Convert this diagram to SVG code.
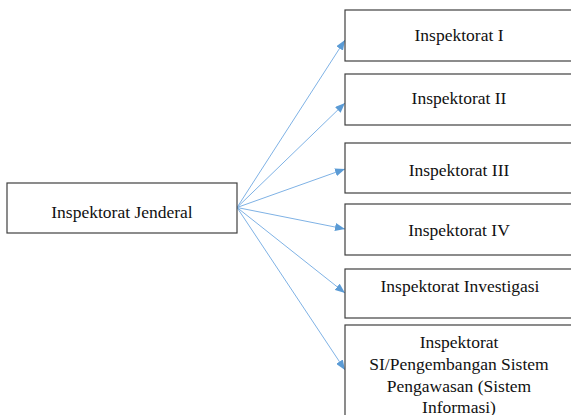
<svg xmlns="http://www.w3.org/2000/svg" width="571" height="415" viewBox="0 0 571 415">
<style>
.box{fill:#fff;stroke:#404040;stroke-width:1.2}
.t{font-family:'Liberation Serif',Tinos,'Times New Roman','DejaVu Serif',serif;font-size:17.5px;fill:#111;text-anchor:middle}
.c{stroke:#7fb2e5;stroke-width:1;fill:none;marker-end:url(#ah)}
</style>
<defs>
<marker id="ah" viewBox="0 0 10 8" refX="10" refY="4" markerWidth="10" markerHeight="8" markerUnits="userSpaceOnUse" orient="auto">
<path d="M0,0 L10,4 L0,8 z" fill="#5b9bd5"/>
</marker>
</defs>
<rect width="571" height="415" fill="#fff"/>
<g id="connectors">
<line class="c" x1="237" y1="207.5" x2="345" y2="40"/>
<line class="c" x1="237" y1="207.5" x2="345" y2="103"/>
<line class="c" x1="237" y1="207.5" x2="345" y2="169"/>
<line class="c" x1="237" y1="207.5" x2="345" y2="229"/>
<line class="c" x1="237" y1="207.5" x2="345" y2="293"/>
<line class="c" x1="237" y1="207.5" x2="345" y2="370"/>
</g>
<g id="n0"><rect class="box" x="7" y="183" width="230" height="50"/><text class="t" font-family="Liberation Serif" x="122" y="218">Inspektorat Jenderal</text></g>
<g id="n1"><rect class="box" x="345" y="10" width="230" height="51"/><text class="t" x="459" y="41">Inspektorat I</text></g>
<g id="n2"><rect class="box" x="345" y="74" width="230" height="51"/><text class="t" x="459" y="104">Inspektorat II</text></g>
<g id="n3"><rect class="box" x="345" y="143" width="230" height="50"/><text class="t" x="459" y="176">Inspektorat III</text></g>
<g id="n4"><rect class="box" x="345" y="204" width="230" height="51"/><text class="t" x="459" y="236">Inspektorat IV</text></g>
<g id="n5"><rect class="box" x="345" y="269" width="230" height="49"/><text class="t" x="460" y="292">Inspektorat Investigasi</text></g>
<g id="n6"><rect class="box" x="345" y="325" width="230" height="100"/>
<text class="t" x="459" y="348">Inspektorat</text>
<text class="t" x="459" y="370">SI/Pengembangan Sistem</text>
<text class="t" x="459" y="391.5">Pengawasan (Sistem</text>
<text class="t" x="459" y="412.5">Informasi)</text>
</g>
</svg>
